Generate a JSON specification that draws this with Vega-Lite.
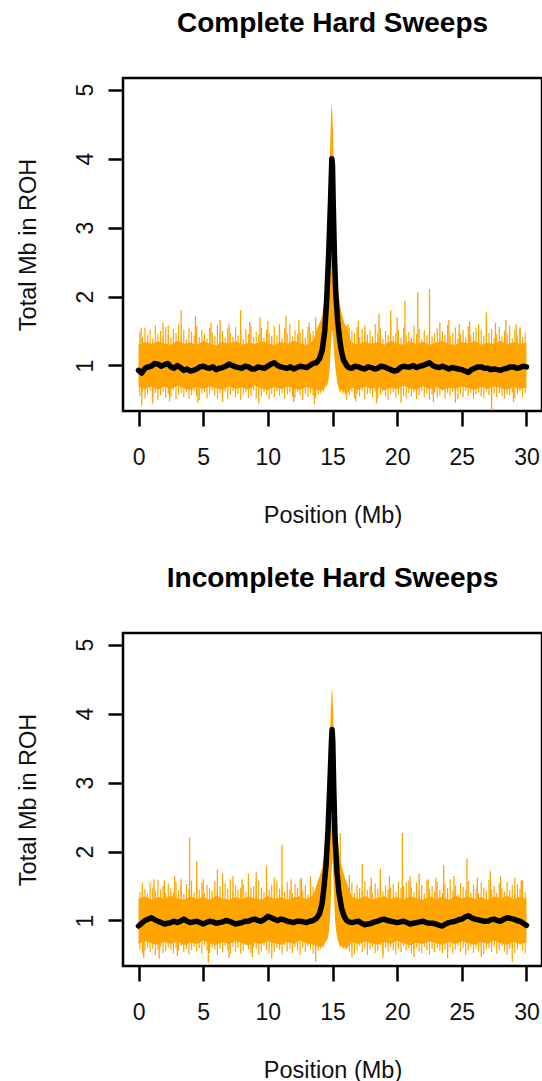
{
  "$schema": "https://vega.github.io/schema/vega-lite/v6.json",
  "padding": {"left": 14, "top": 8, "right": 0, "bottom": 0},
  "background": "white",
  "datasets": {
    "band": [
      {"p":1,"x":0,"lo":0.68,"hi":1.30},{"p":1,"x":0.5,"lo":0.66,"hi":1.34},{"p":1,"x":1,"lo":0.70,"hi":1.31},{"p":1,"x":1.5,"lo":0.65,"hi":1.35},
      {"p":1,"x":2,"lo":0.69,"hi":1.32},{"p":1,"x":2.5,"lo":0.66,"hi":1.30},{"p":1,"x":3,"lo":0.71,"hi":1.36},{"p":1,"x":3.5,"lo":0.67,"hi":1.31},
      {"p":1,"x":4,"lo":0.64,"hi":1.33},{"p":1,"x":4.5,"lo":0.69,"hi":1.30},{"p":1,"x":5,"lo":0.66,"hi":1.35},{"p":1,"x":5.5,"lo":0.70,"hi":1.32},
      {"p":1,"x":6,"lo":0.67,"hi":1.29},{"p":1,"x":6.5,"lo":0.65,"hi":1.34},{"p":1,"x":7,"lo":0.70,"hi":1.31},{"p":1,"x":7.5,"lo":0.66,"hi":1.36},
      {"p":1,"x":8,"lo":0.68,"hi":1.30},{"p":1,"x":8.5,"lo":0.65,"hi":1.33},{"p":1,"x":9,"lo":0.71,"hi":1.31},{"p":1,"x":9.5,"lo":0.67,"hi":1.35},
      {"p":1,"x":10,"lo":0.64,"hi":1.32},{"p":1,"x":10.5,"lo":0.69,"hi":1.30},{"p":1,"x":11,"lo":0.66,"hi":1.34},{"p":1,"x":11.5,"lo":0.70,"hi":1.31},
      {"p":1,"x":12,"lo":0.67,"hi":1.36},{"p":1,"x":12.5,"lo":0.65,"hi":1.32},{"p":1,"x":13,"lo":0.69,"hi":1.30},{"p":1,"x":13.5,"lo":0.66,"hi":1.36},
      {"p":1,"x":14,"lo":0.64,"hi":1.62},{"p":1,"x":14.1,"lo":0.58,"hi":1.66},{"p":1,"x":14.2,"lo":0.66,"hi":1.72},{"p":1,"x":14.3,"lo":0.60,"hi":1.86},
      {"p":1,"x":14.4,"lo":0.68,"hi":2.02},{"p":1,"x":14.5,"lo":0.70,"hi":2.30},{"p":1,"x":14.6,"lo":0.72,"hi":2.70},{"p":1,"x":14.7,"lo":0.80,"hi":3.30},
      {"p":1,"x":14.8,"lo":1.00,"hi":4.00},{"p":1,"x":14.85,"lo":1.20,"hi":4.40},{"p":1,"x":14.9,"lo":1.35,"hi":4.70},{"p":1,"x":14.95,"lo":1.50,"hi":4.80},
      {"p":1,"x":15,"lo":1.50,"hi":4.62},{"p":1,"x":15.05,"lo":1.40,"hi":4.30},{"p":1,"x":15.1,"lo":1.25,"hi":3.80},{"p":1,"x":15.2,"lo":1.00,"hi":3.00},
      {"p":1,"x":15.3,"lo":0.85,"hi":2.50},{"p":1,"x":15.4,"lo":0.72,"hi":2.20},{"p":1,"x":15.5,"lo":0.66,"hi":2.00},{"p":1,"x":15.6,"lo":0.60,"hi":1.86},
      {"p":1,"x":15.7,"lo":0.66,"hi":1.76},{"p":1,"x":15.8,"lo":0.58,"hi":1.70},{"p":1,"x":15.9,"lo":0.64,"hi":1.62},{"p":1,"x":16,"lo":0.57,"hi":1.58},
      {"p":1,"x":16.5,"lo":0.68,"hi":1.33},{"p":1,"x":17,"lo":0.65,"hi":1.30},{"p":1,"x":17.5,"lo":0.70,"hi":1.35},{"p":1,"x":18,"lo":0.66,"hi":1.31},
      {"p":1,"x":18.5,"lo":0.69,"hi":1.34},{"p":1,"x":19,"lo":0.64,"hi":1.30},{"p":1,"x":19.5,"lo":0.68,"hi":1.36},{"p":1,"x":20,"lo":0.66,"hi":1.32},
      {"p":1,"x":20.5,"lo":0.71,"hi":1.30},{"p":1,"x":21,"lo":0.67,"hi":1.35},{"p":1,"x":21.5,"lo":0.65,"hi":1.31},{"p":1,"x":22,"lo":0.70,"hi":1.34},
      {"p":1,"x":22.5,"lo":0.66,"hi":1.30},{"p":1,"x":23,"lo":0.69,"hi":1.33},{"p":1,"x":23.5,"lo":0.64,"hi":1.36},{"p":1,"x":24,"lo":0.68,"hi":1.31},
      {"p":1,"x":24.5,"lo":0.66,"hi":1.30},{"p":1,"x":25,"lo":0.70,"hi":1.34},{"p":1,"x":25.5,"lo":0.67,"hi":1.32},{"p":1,"x":26,"lo":0.65,"hi":1.35},
      {"p":1,"x":26.5,"lo":0.69,"hi":1.30},{"p":1,"x":27,"lo":0.66,"hi":1.33},{"p":1,"x":27.5,"lo":0.70,"hi":1.31},{"p":1,"x":28,"lo":0.67,"hi":1.36},
      {"p":1,"x":28.5,"lo":0.65,"hi":1.30},{"p":1,"x":29,"lo":0.69,"hi":1.34},{"p":1,"x":29.5,"lo":0.66,"hi":1.31},{"p":1,"x":30,"lo":0.68,"hi":1.33},

      {"p":2,"x":0,"lo":0.66,"hi":1.32},{"p":2,"x":0.5,"lo":0.70,"hi":1.35},{"p":2,"x":1,"lo":0.67,"hi":1.30},{"p":2,"x":1.5,"lo":0.65,"hi":1.34},
      {"p":2,"x":2,"lo":0.69,"hi":1.31},{"p":2,"x":2.5,"lo":0.66,"hi":1.36},{"p":2,"x":3,"lo":0.70,"hi":1.32},{"p":2,"x":3.5,"lo":0.64,"hi":1.30},
      {"p":2,"x":4,"lo":0.68,"hi":1.35},{"p":2,"x":4.5,"lo":0.66,"hi":1.31},{"p":2,"x":5,"lo":0.71,"hi":1.34},{"p":2,"x":5.5,"lo":0.67,"hi":1.30},
      {"p":2,"x":6,"lo":0.65,"hi":1.36},{"p":2,"x":6.5,"lo":0.69,"hi":1.32},{"p":2,"x":7,"lo":0.66,"hi":1.30},{"p":2,"x":7.5,"lo":0.70,"hi":1.34},
      {"p":2,"x":8,"lo":0.67,"hi":1.31},{"p":2,"x":8.5,"lo":0.64,"hi":1.35},{"p":2,"x":9,"lo":0.68,"hi":1.32},{"p":2,"x":9.5,"lo":0.66,"hi":1.30},
      {"p":2,"x":10,"lo":0.70,"hi":1.36},{"p":2,"x":10.5,"lo":0.67,"hi":1.31},{"p":2,"x":11,"lo":0.65,"hi":1.34},{"p":2,"x":11.5,"lo":0.69,"hi":1.30},
      {"p":2,"x":12,"lo":0.66,"hi":1.33},{"p":2,"x":12.5,"lo":0.71,"hi":1.35},{"p":2,"x":13,"lo":0.67,"hi":1.31},{"p":2,"x":13.5,"lo":0.65,"hi":1.37},
      {"p":2,"x":14,"lo":0.62,"hi":1.64},{"p":2,"x":14.1,"lo":0.58,"hi":1.70},{"p":2,"x":14.2,"lo":0.64,"hi":1.76},{"p":2,"x":14.3,"lo":0.60,"hi":1.90},
      {"p":2,"x":14.4,"lo":0.68,"hi":2.05},{"p":2,"x":14.5,"lo":0.70,"hi":2.30},{"p":2,"x":14.6,"lo":0.72,"hi":2.60},{"p":2,"x":14.7,"lo":0.80,"hi":3.00},
      {"p":2,"x":14.8,"lo":1.00,"hi":3.60},{"p":2,"x":14.85,"lo":1.20,"hi":3.95},{"p":2,"x":14.9,"lo":1.50,"hi":4.20},{"p":2,"x":14.95,"lo":1.80,"hi":4.37},
      {"p":2,"x":15,"lo":1.90,"hi":4.30},{"p":2,"x":15.05,"lo":1.70,"hi":4.00},{"p":2,"x":15.1,"lo":1.40,"hi":3.60},{"p":2,"x":15.2,"lo":1.00,"hi":3.00},
      {"p":2,"x":15.3,"lo":0.82,"hi":2.50},{"p":2,"x":15.4,"lo":0.72,"hi":2.20},{"p":2,"x":15.5,"lo":0.66,"hi":2.00},{"p":2,"x":15.6,"lo":0.60,"hi":1.90},
      {"p":2,"x":15.7,"lo":0.64,"hi":1.80},{"p":2,"x":15.8,"lo":0.58,"hi":1.72},{"p":2,"x":15.9,"lo":0.63,"hi":1.66},{"p":2,"x":16,"lo":0.57,"hi":1.60},
      {"p":2,"x":16.5,"lo":0.69,"hi":1.34},{"p":2,"x":17,"lo":0.66,"hi":1.31},{"p":2,"x":17.5,"lo":0.70,"hi":1.36},{"p":2,"x":18,"lo":0.67,"hi":1.30},
      {"p":2,"x":18.5,"lo":0.65,"hi":1.33},{"p":2,"x":19,"lo":0.69,"hi":1.35},{"p":2,"x":19.5,"lo":0.66,"hi":1.31},{"p":2,"x":20,"lo":0.71,"hi":1.34},
      {"p":2,"x":20.5,"lo":0.67,"hi":1.30},{"p":2,"x":21,"lo":0.64,"hi":1.36},{"p":2,"x":21.5,"lo":0.68,"hi":1.32},{"p":2,"x":22,"lo":0.66,"hi":1.30},
      {"p":2,"x":22.5,"lo":0.70,"hi":1.35},{"p":2,"x":23,"lo":0.67,"hi":1.31},{"p":2,"x":23.5,"lo":0.65,"hi":1.34},{"p":2,"x":24,"lo":0.69,"hi":1.30},
      {"p":2,"x":24.5,"lo":0.66,"hi":1.36},{"p":2,"x":25,"lo":0.70,"hi":1.32},{"p":2,"x":25.5,"lo":0.67,"hi":1.35},{"p":2,"x":26,"lo":0.65,"hi":1.31},
      {"p":2,"x":26.5,"lo":0.69,"hi":1.34},{"p":2,"x":27,"lo":0.66,"hi":1.30},{"p":2,"x":27.5,"lo":0.71,"hi":1.35},{"p":2,"x":28,"lo":0.67,"hi":1.32},
      {"p":2,"x":28.5,"lo":0.65,"hi":1.36},{"p":2,"x":29,"lo":0.69,"hi":1.31},{"p":2,"x":29.5,"lo":0.66,"hi":1.34},{"p":2,"x":30,"lo":0.68,"hi":1.32}
    ],
    "streaks": [
      {"p":1,"x":0.1,"lo":0.56,"hi":1.48},{"p":1,"x":0.3,"lo":0.61,"hi":1.41},{"p":1,"x":0.5,"lo":0.52,"hi":1.55},{"p":1,"x":0.7,"lo":0.58,"hi":1.44},{"p":1,"x":0.9,"lo":0.63,"hi":1.52},
      {"p":1,"x":1.1,"lo":0.54,"hi":1.39},{"p":1,"x":1.3,"lo":0.60,"hi":1.58},{"p":1,"x":1.5,"lo":0.50,"hi":1.46},{"p":1,"x":1.7,"lo":0.57,"hi":1.50},{"p":1,"x":1.9,"lo":0.62,"hi":1.42},
      {"p":1,"x":2.1,"lo":0.53,"hi":1.56},{"p":1,"x":2.3,"lo":0.59,"hi":1.45},{"p":1,"x":2.5,"lo":0.55,"hi":1.40},{"p":1,"x":2.7,"lo":0.64,"hi":1.53},{"p":1,"x":2.9,"lo":0.51,"hi":1.47},
      {"p":1,"x":3.1,"lo":0.58,"hi":1.60},{"p":1,"x":3.3,"lo":0.60,"hi":1.43},{"p":1,"x":3.5,"lo":0.54,"hi":1.51},{"p":1,"x":3.7,"lo":0.62,"hi":1.38},{"p":1,"x":3.9,"lo":0.52,"hi":1.54},
      {"p":1,"x":4.1,"lo":0.57,"hi":1.49},{"p":1,"x":4.3,"lo":0.63,"hi":1.44},{"p":1,"x":4.5,"lo":0.55,"hi":1.57},{"p":1,"x":4.7,"lo":0.50,"hi":1.41},{"p":1,"x":4.9,"lo":0.59,"hi":1.52},
      {"p":1,"x":5.1,"lo":0.61,"hi":1.46},{"p":1,"x":5.3,"lo":0.53,"hi":1.39},{"p":1,"x":5.5,"lo":0.58,"hi":1.55},{"p":1,"x":5.7,"lo":0.64,"hi":1.48},{"p":1,"x":5.9,"lo":0.56,"hi":1.43},
      {"p":1,"x":6.1,"lo":0.52,"hi":1.59},{"p":1,"x":6.3,"lo":0.60,"hi":1.45},{"p":1,"x":6.5,"lo":0.55,"hi":1.50},{"p":1,"x":6.7,"lo":0.62,"hi":1.40},{"p":1,"x":6.9,"lo":0.51,"hi":1.54},
      {"p":1,"x":7.1,"lo":0.57,"hi":1.47},{"p":1,"x":7.3,"lo":0.63,"hi":1.42},{"p":1,"x":7.5,"lo":0.54,"hi":1.56},{"p":1,"x":7.7,"lo":0.59,"hi":1.44},{"p":1,"x":7.9,"lo":0.50,"hi":1.51},
      {"p":1,"x":8.1,"lo":0.58,"hi":1.38},{"p":1,"x":8.3,"lo":0.61,"hi":1.53},{"p":1,"x":8.5,"lo":0.53,"hi":1.46},{"p":1,"x":8.7,"lo":0.56,"hi":1.58},{"p":1,"x":8.9,"lo":0.64,"hi":1.41},
      {"p":1,"x":9.1,"lo":0.52,"hi":1.49},{"p":1,"x":9.3,"lo":0.60,"hi":1.45},{"p":1,"x":9.5,"lo":0.55,"hi":1.55},{"p":1,"x":9.7,"lo":0.62,"hi":1.40},{"p":1,"x":9.9,"lo":0.57,"hi":1.52},
      {"p":1,"x":10.1,"lo":0.51,"hi":1.47},{"p":1,"x":10.3,"lo":0.59,"hi":1.43},{"p":1,"x":10.5,"lo":0.54,"hi":1.57},{"p":1,"x":10.7,"lo":0.63,"hi":1.44},{"p":1,"x":10.9,"lo":0.56,"hi":1.50},
      {"p":1,"x":11.1,"lo":0.60,"hi":1.39},{"p":1,"x":11.3,"lo":0.52,"hi":1.54},{"p":1,"x":11.5,"lo":0.58,"hi":1.46},{"p":1,"x":11.7,"lo":0.61,"hi":1.60},{"p":1,"x":11.9,"lo":0.55,"hi":1.42},
      {"p":1,"x":12.1,"lo":0.53,"hi":1.51},{"p":1,"x":12.3,"lo":0.62,"hi":1.45},{"p":1,"x":12.5,"lo":0.57,"hi":1.48},{"p":1,"x":12.7,"lo":0.50,"hi":1.53},{"p":1,"x":12.9,"lo":0.59,"hi":1.41},
      {"p":1,"x":13.1,"lo":0.54,"hi":1.56},{"p":1,"x":13.3,"lo":0.60,"hi":1.47},{"p":1,"x":13.5,"lo":0.56,"hi":1.50},{"p":1,"x":13.7,"lo":0.52,"hi":1.55},{"p":1,"x":13.9,"lo":0.58,"hi":1.58},
      {"p":1,"x":16.1,"lo":0.50,"hi":1.58},{"p":1,"x":16.3,"lo":0.57,"hi":1.55},{"p":1,"x":16.5,"lo":0.62,"hi":1.50},{"p":1,"x":16.7,"lo":0.53,"hi":1.47},{"p":1,"x":16.9,"lo":0.59,"hi":1.56},
      {"p":1,"x":17.1,"lo":0.55,"hi":1.41},{"p":1,"x":17.3,"lo":0.64,"hi":1.53},{"p":1,"x":17.5,"lo":0.51,"hi":1.48},{"p":1,"x":17.7,"lo":0.58,"hi":1.45},{"p":1,"x":17.9,"lo":0.60,"hi":1.51},
      {"p":1,"x":18.1,"lo":0.54,"hi":1.42},{"p":1,"x":18.3,"lo":0.62,"hi":1.60},{"p":1,"x":18.5,"lo":0.52,"hi":1.46},{"p":1,"x":18.7,"lo":0.57,"hi":1.54},{"p":1,"x":18.9,"lo":0.63,"hi":1.39},
      {"p":1,"x":19.1,"lo":0.55,"hi":1.50},{"p":1,"x":19.3,"lo":0.50,"hi":1.44},{"p":1,"x":19.5,"lo":0.59,"hi":1.57},{"p":1,"x":19.7,"lo":0.61,"hi":1.43},{"p":1,"x":19.9,"lo":0.53,"hi":1.47},
      {"p":1,"x":20.1,"lo":0.58,"hi":1.52},{"p":1,"x":20.3,"lo":0.64,"hi":1.40},{"p":1,"x":20.5,"lo":0.56,"hi":1.55},{"p":1,"x":20.7,"lo":0.52,"hi":1.45},{"p":1,"x":20.9,"lo":0.60,"hi":1.49},
      {"p":1,"x":21.1,"lo":0.55,"hi":1.41},{"p":1,"x":21.3,"lo":0.62,"hi":1.58},{"p":1,"x":21.5,"lo":0.51,"hi":1.46},{"p":1,"x":21.7,"lo":0.57,"hi":1.53},{"p":1,"x":21.9,"lo":0.63,"hi":1.38},
      {"p":1,"x":22.1,"lo":0.54,"hi":1.51},{"p":1,"x":22.3,"lo":0.59,"hi":1.44},{"p":1,"x":22.5,"lo":0.50,"hi":1.56},{"p":1,"x":22.7,"lo":0.58,"hi":1.42},{"p":1,"x":22.9,"lo":0.61,"hi":1.47},
      {"p":1,"x":23.1,"lo":0.53,"hi":1.54},{"p":1,"x":23.3,"lo":0.56,"hi":1.40},{"p":1,"x":23.5,"lo":0.64,"hi":1.50},{"p":1,"x":23.7,"lo":0.52,"hi":1.45},{"p":1,"x":23.9,"lo":0.60,"hi":1.59},
      {"p":1,"x":24.1,"lo":0.55,"hi":1.43},{"p":1,"x":24.3,"lo":0.62,"hi":1.48},{"p":1,"x":24.5,"lo":0.57,"hi":1.55},{"p":1,"x":24.7,"lo":0.51,"hi":1.39},{"p":1,"x":24.9,"lo":0.59,"hi":1.46},
      {"p":1,"x":25.1,"lo":0.54,"hi":1.52},{"p":1,"x":25.3,"lo":0.63,"hi":1.41},{"p":1,"x":25.5,"lo":0.56,"hi":1.57},{"p":1,"x":25.7,"lo":0.60,"hi":1.44},{"p":1,"x":25.9,"lo":0.52,"hi":1.49},
      {"p":1,"x":26.1,"lo":0.58,"hi":1.54},{"p":1,"x":26.3,"lo":0.61,"hi":1.38},{"p":1,"x":26.5,"lo":0.55,"hi":1.51},{"p":1,"x":26.7,"lo":0.53,"hi":1.43},{"p":1,"x":26.9,"lo":0.62,"hi":1.60},
      {"p":1,"x":27.1,"lo":0.57,"hi":1.47},{"p":1,"x":27.3,"lo":0.50,"hi":1.53},{"p":1,"x":27.5,"lo":0.59,"hi":1.40},{"p":1,"x":27.7,"lo":0.54,"hi":1.45},{"p":1,"x":27.9,"lo":0.60,"hi":1.56},
      {"p":1,"x":28.1,"lo":0.56,"hi":1.42},{"p":1,"x":28.3,"lo":0.52,"hi":1.50},{"p":1,"x":28.5,"lo":0.58,"hi":1.46},{"p":1,"x":28.7,"lo":0.56,"hi":1.58},{"p":1,"x":28.9,"lo":0.61,"hi":1.39},
      {"p":1,"x":29.1,"lo":0.52,"hi":1.52},{"p":1,"x":29.3,"lo":0.58,"hi":1.44},{"p":1,"x":29.5,"lo":0.63,"hi":1.55},{"p":1,"x":29.7,"lo":0.54,"hi":1.41},{"p":1,"x":29.9,"lo":0.60,"hi":1.48},

      {"p":2,"x":0.1,"lo":0.58,"hi":1.41},{"p":2,"x":0.3,"lo":0.52,"hi":1.52},{"p":2,"x":0.5,"lo":0.56,"hi":1.46},{"p":2,"x":0.7,"lo":0.60,"hi":1.39},{"p":2,"x":0.9,"lo":0.54,"hi":1.55},
      {"p":2,"x":1.1,"lo":0.59,"hi":1.48},{"p":2,"x":1.3,"lo":0.50,"hi":1.43},{"p":2,"x":1.5,"lo":0.57,"hi":1.59},{"p":2,"x":1.7,"lo":0.62,"hi":1.45},{"p":2,"x":1.9,"lo":0.53,"hi":1.50},
      {"p":2,"x":2.1,"lo":0.55,"hi":1.40},{"p":2,"x":2.3,"lo":0.61,"hi":1.54},{"p":2,"x":2.5,"lo":0.58,"hi":1.47},{"p":2,"x":2.7,"lo":0.52,"hi":1.42},{"p":2,"x":2.9,"lo":0.60,"hi":1.56},
      {"p":2,"x":3.1,"lo":0.56,"hi":1.44},{"p":2,"x":3.3,"lo":0.63,"hi":1.51},{"p":2,"x":3.5,"lo":0.54,"hi":1.38},{"p":2,"x":3.7,"lo":0.59,"hi":1.53},{"p":2,"x":3.9,"lo":0.51,"hi":1.46},
      {"p":2,"x":4.1,"lo":0.57,"hi":1.58},{"p":2,"x":4.3,"lo":0.62,"hi":1.41},{"p":2,"x":4.5,"lo":0.55,"hi":1.49},{"p":2,"x":4.7,"lo":0.60,"hi":1.45},{"p":2,"x":4.9,"lo":0.52,"hi":1.55},
      {"p":2,"x":5.1,"lo":0.64,"hi":1.40},{"p":2,"x":5.3,"lo":0.56,"hi":1.52},{"p":2,"x":5.5,"lo":0.53,"hi":1.47},{"p":2,"x":5.7,"lo":0.61,"hi":1.43},{"p":2,"x":5.9,"lo":0.58,"hi":1.57},
      {"p":2,"x":6.1,"lo":0.50,"hi":1.44},{"p":2,"x":6.3,"lo":0.59,"hi":1.50},{"p":2,"x":6.5,"lo":0.54,"hi":1.39},{"p":2,"x":6.7,"lo":0.63,"hi":1.54},{"p":2,"x":6.9,"lo":0.57,"hi":1.46},
      {"p":2,"x":7.1,"lo":0.51,"hi":1.60},{"p":2,"x":7.3,"lo":0.62,"hi":1.42},{"p":2,"x":7.5,"lo":0.55,"hi":1.51},{"p":2,"x":7.7,"lo":0.60,"hi":1.45},{"p":2,"x":7.9,"lo":0.52,"hi":1.48},
      {"p":2,"x":8.1,"lo":0.56,"hi":1.53},{"p":2,"x":8.3,"lo":0.64,"hi":1.41},{"p":2,"x":8.5,"lo":0.58,"hi":1.56},{"p":2,"x":8.7,"lo":0.53,"hi":1.47},{"p":2,"x":8.9,"lo":0.61,"hi":1.50},
      {"p":2,"x":9.1,"lo":0.59,"hi":1.55},{"p":2,"x":9.3,"lo":0.50,"hi":1.58},{"p":2,"x":9.5,"lo":0.55,"hi":1.48},{"p":2,"x":9.7,"lo":0.63,"hi":1.41},{"p":2,"x":9.9,"lo":0.57,"hi":1.55},
      {"p":2,"x":10.1,"lo":0.52,"hi":1.44},{"p":2,"x":10.3,"lo":0.62,"hi":1.52},{"p":2,"x":10.5,"lo":0.54,"hi":1.39},{"p":2,"x":10.7,"lo":0.60,"hi":1.58},{"p":2,"x":10.9,"lo":0.58,"hi":1.46},
      {"p":2,"x":11.1,"lo":0.51,"hi":1.50},{"p":2,"x":11.3,"lo":0.64,"hi":1.42},{"p":2,"x":11.5,"lo":0.55,"hi":1.56},{"p":2,"x":11.7,"lo":0.59,"hi":1.45},{"p":2,"x":11.9,"lo":0.53,"hi":1.40},
      {"p":2,"x":12.1,"lo":0.62,"hi":1.53},{"p":2,"x":12.3,"lo":0.57,"hi":1.47},{"p":2,"x":12.5,"lo":0.50,"hi":1.60},{"p":2,"x":12.7,"lo":0.60,"hi":1.43},{"p":2,"x":12.9,"lo":0.54,"hi":1.51},
      {"p":2,"x":13.1,"lo":0.63,"hi":1.38},{"p":2,"x":13.3,"lo":0.58,"hi":1.54},{"p":2,"x":13.5,"lo":0.52,"hi":1.49},{"p":2,"x":13.7,"lo":0.61,"hi":1.44},{"p":2,"x":13.9,"lo":0.56,"hi":1.57},
      {"p":2,"x":16.1,"lo":0.60,"hi":1.49},{"p":2,"x":16.3,"lo":0.55,"hi":1.45},{"p":2,"x":16.5,"lo":0.62,"hi":1.55},{"p":2,"x":16.7,"lo":0.51,"hi":1.40},{"p":2,"x":16.9,"lo":0.57,"hi":1.52},
      {"p":2,"x":17.1,"lo":0.63,"hi":1.47},{"p":2,"x":17.3,"lo":0.54,"hi":1.43},{"p":2,"x":17.5,"lo":0.59,"hi":1.57},{"p":2,"x":17.7,"lo":0.50,"hi":1.44},{"p":2,"x":17.9,"lo":0.58,"hi":1.50},
      {"p":2,"x":18.1,"lo":0.61,"hi":1.39},{"p":2,"x":18.3,"lo":0.53,"hi":1.54},{"p":2,"x":18.5,"lo":0.56,"hi":1.46},{"p":2,"x":18.7,"lo":0.64,"hi":1.60},{"p":2,"x":18.9,"lo":0.52,"hi":1.42},
      {"p":2,"x":19.1,"lo":0.60,"hi":1.51},{"p":2,"x":19.3,"lo":0.55,"hi":1.45},{"p":2,"x":19.5,"lo":0.62,"hi":1.48},{"p":2,"x":19.7,"lo":0.57,"hi":1.53},{"p":2,"x":19.9,"lo":0.51,"hi":1.41},
      {"p":2,"x":20.1,"lo":0.59,"hi":1.56},{"p":2,"x":20.3,"lo":0.54,"hi":1.47},{"p":2,"x":20.5,"lo":0.63,"hi":1.50},{"p":2,"x":20.7,"lo":0.56,"hi":1.55},{"p":2,"x":20.9,"lo":0.60,"hi":1.58},
      {"p":2,"x":21.1,"lo":0.52,"hi":1.48},{"p":2,"x":21.3,"lo":0.58,"hi":1.41},{"p":2,"x":21.5,"lo":0.61,"hi":1.55},{"p":2,"x":21.7,"lo":0.55,"hi":1.44},{"p":2,"x":21.9,"lo":0.53,"hi":1.52},
      {"p":2,"x":22.1,"lo":0.62,"hi":1.39},{"p":2,"x":22.3,"lo":0.57,"hi":1.58},{"p":2,"x":22.5,"lo":0.50,"hi":1.46},{"p":2,"x":22.7,"lo":0.59,"hi":1.50},{"p":2,"x":22.9,"lo":0.54,"hi":1.42},
      {"p":2,"x":23.1,"lo":0.60,"hi":1.56},{"p":2,"x":23.3,"lo":0.56,"hi":1.45},{"p":2,"x":23.5,"lo":0.52,"hi":1.40},{"p":2,"x":23.7,"lo":0.58,"hi":1.53},{"p":2,"x":23.9,"lo":0.56,"hi":1.47},
      {"p":2,"x":24.1,"lo":0.61,"hi":1.60},{"p":2,"x":24.3,"lo":0.52,"hi":1.43},{"p":2,"x":24.5,"lo":0.58,"hi":1.51},{"p":2,"x":24.7,"lo":0.63,"hi":1.38},{"p":2,"x":24.9,"lo":0.54,"hi":1.54},
      {"p":2,"x":25.1,"lo":0.60,"hi":1.49},{"p":2,"x":25.3,"lo":0.50,"hi":1.44},{"p":2,"x":25.5,"lo":0.57,"hi":1.57},{"p":2,"x":25.7,"lo":0.62,"hi":1.41},{"p":2,"x":25.9,"lo":0.53,"hi":1.52},
      {"p":2,"x":26.1,"lo":0.59,"hi":1.46},{"p":2,"x":26.3,"lo":0.55,"hi":1.39},{"p":2,"x":26.5,"lo":0.64,"hi":1.55},{"p":2,"x":26.7,"lo":0.51,"hi":1.48},{"p":2,"x":26.9,"lo":0.58,"hi":1.43},
      {"p":2,"x":27.1,"lo":0.60,"hi":1.59},{"p":2,"x":27.3,"lo":0.54,"hi":1.45},{"p":2,"x":27.5,"lo":0.62,"hi":1.50},{"p":2,"x":27.7,"lo":0.52,"hi":1.40},{"p":2,"x":27.9,"lo":0.57,"hi":1.54},
      {"p":2,"x":28.1,"lo":0.63,"hi":1.47},{"p":2,"x":28.3,"lo":0.55,"hi":1.42},{"p":2,"x":28.5,"lo":0.50,"hi":1.56},{"p":2,"x":28.7,"lo":0.59,"hi":1.44},{"p":2,"x":28.9,"lo":0.61,"hi":1.51},
      {"p":2,"x":29.1,"lo":0.53,"hi":1.38},{"p":2,"x":29.3,"lo":0.58,"hi":1.53},{"p":2,"x":29.5,"lo":0.64,"hi":1.46},{"p":2,"x":29.7,"lo":0.56,"hi":1.58},{"p":2,"x":29.9,"lo":0.52,"hi":1.41}
    ],
    "spikes": [
      {"p":1,"x":0.2,"lo":1.3,"hi":1.55},{"p":1,"x":1.9,"lo":1.3,"hi":1.62},{"p":1,"x":2.3,"lo":1.3,"hi":1.58},{"p":1,"x":3.3,"lo":1.3,"hi":1.80},
      {"p":1,"x":4.4,"lo":1.3,"hi":1.72},{"p":1,"x":5.6,"lo":1.3,"hi":1.62},{"p":1,"x":6.3,"lo":1.3,"hi":1.66},{"p":1,"x":7.0,"lo":1.3,"hi":1.60},
      {"p":1,"x":7.9,"lo":1.3,"hi":1.80},{"p":1,"x":8.6,"lo":1.3,"hi":1.63},{"p":1,"x":9.4,"lo":1.3,"hi":1.70},{"p":1,"x":10.0,"lo":1.3,"hi":1.65},
      {"p":1,"x":10.9,"lo":1.3,"hi":1.60},{"p":1,"x":11.4,"lo":1.3,"hi":1.72},{"p":1,"x":12.4,"lo":1.3,"hi":1.66},{"p":1,"x":13.2,"lo":1.3,"hi":1.62},
      {"p":1,"x":13.7,"lo":1.3,"hi":1.70},{"p":1,"x":16.2,"lo":1.3,"hi":1.60},{"p":1,"x":17.0,"lo":1.3,"hi":1.65},{"p":1,"x":17.5,"lo":1.3,"hi":1.58},
      {"p":1,"x":18.6,"lo":1.3,"hi":1.75},{"p":1,"x":19.5,"lo":1.3,"hi":1.80},{"p":1,"x":20.0,"lo":1.3,"hi":1.70},{"p":1,"x":20.6,"lo":1.3,"hi":1.94},
      {"p":1,"x":21.6,"lo":1.3,"hi":2.07},{"p":1,"x":22.5,"lo":1.3,"hi":2.11},{"p":1,"x":23.3,"lo":1.3,"hi":1.62},{"p":1,"x":24.0,"lo":1.3,"hi":1.66},
      {"p":1,"x":24.8,"lo":1.3,"hi":1.60},{"p":1,"x":25.6,"lo":1.3,"hi":1.64},{"p":1,"x":26.3,"lo":1.3,"hi":1.60},{"p":1,"x":26.9,"lo":1.3,"hi":1.77},
      {"p":1,"x":27.6,"lo":1.3,"hi":1.62},{"p":1,"x":28.4,"lo":1.3,"hi":1.66},{"p":1,"x":29.2,"lo":1.3,"hi":1.60},{"p":1,"x":29.5,"lo":1.3,"hi":1.55},
      {"p":1,"x":0.25,"lo":0.42,"hi":0.7},{"p":1,"x":1.1,"lo":0.45,"hi":0.7},{"p":1,"x":2.4,"lo":0.48,"hi":0.7},{"p":1,"x":4.6,"lo":0.46,"hi":0.7},
      {"p":1,"x":6.5,"lo":0.47,"hi":0.7},{"p":1,"x":9.3,"lo":0.45,"hi":0.7},{"p":1,"x":12.0,"lo":0.47,"hi":0.7},{"p":1,"x":13.6,"lo":0.44,"hi":0.7},
      {"p":1,"x":16.8,"lo":0.48,"hi":0.7},{"p":1,"x":18.4,"lo":0.45,"hi":0.7},{"p":1,"x":20.3,"lo":0.46,"hi":0.7},{"p":1,"x":22.8,"lo":0.47,"hi":0.7},
      {"p":1,"x":24.5,"lo":0.46,"hi":0.7},{"p":1,"x":27.3,"lo":0.35,"hi":0.7},{"p":1,"x":29.0,"lo":0.47,"hi":0.7},

      {"p":2,"x":0.3,"lo":1.3,"hi":1.55},{"p":2,"x":1.2,"lo":1.3,"hi":1.60},{"p":2,"x":2.0,"lo":1.3,"hi":1.58},{"p":2,"x":2.8,"lo":1.3,"hi":1.64},
      {"p":2,"x":3.3,"lo":1.3,"hi":1.60},{"p":2,"x":3.95,"lo":1.3,"hi":2.20},{"p":2,"x":4.5,"lo":1.3,"hi":1.86},{"p":2,"x":5.0,"lo":1.3,"hi":1.60},
      {"p":2,"x":6.1,"lo":1.3,"hi":1.74},{"p":2,"x":6.5,"lo":1.3,"hi":1.68},{"p":2,"x":7.3,"lo":1.3,"hi":1.64},{"p":2,"x":8.0,"lo":1.3,"hi":1.60},
      {"p":2,"x":8.5,"lo":1.3,"hi":1.68},{"p":2,"x":9.1,"lo":1.3,"hi":1.70},{"p":2,"x":9.9,"lo":1.3,"hi":1.79},{"p":2,"x":10.5,"lo":1.3,"hi":1.62},
      {"p":2,"x":11.1,"lo":1.3,"hi":2.10},{"p":2,"x":11.8,"lo":1.3,"hi":1.60},{"p":2,"x":12.6,"lo":1.3,"hi":1.62},{"p":2,"x":13.3,"lo":1.3,"hi":1.64},
      {"p":2,"x":15.6,"lo":1.3,"hi":2.27},{"p":2,"x":16.3,"lo":1.3,"hi":1.66},{"p":2,"x":17.3,"lo":1.3,"hi":1.82},{"p":2,"x":18.0,"lo":1.3,"hi":1.62},
      {"p":2,"x":18.7,"lo":1.3,"hi":1.75},{"p":2,"x":19.4,"lo":1.3,"hi":1.65},{"p":2,"x":20.4,"lo":1.3,"hi":2.27},{"p":2,"x":21.0,"lo":1.3,"hi":1.64},
      {"p":2,"x":21.7,"lo":1.3,"hi":1.68},{"p":2,"x":22.4,"lo":1.3,"hi":1.60},{"p":2,"x":23.0,"lo":1.3,"hi":1.62},{"p":2,"x":23.6,"lo":1.3,"hi":1.80},
      {"p":2,"x":24.4,"lo":1.3,"hi":1.64},{"p":2,"x":25.4,"lo":1.3,"hi":1.90},{"p":2,"x":26.2,"lo":1.3,"hi":1.62},{"p":2,"x":27.2,"lo":1.3,"hi":1.72},
      {"p":2,"x":28.0,"lo":1.3,"hi":1.64},{"p":2,"x":29.1,"lo":1.3,"hi":1.62},{"p":2,"x":29.6,"lo":1.3,"hi":1.58},
      {"p":2,"x":0.4,"lo":0.46,"hi":0.7},{"p":2,"x":1.6,"lo":0.45,"hi":0.7},{"p":2,"x":3.0,"lo":0.48,"hi":0.7},{"p":2,"x":5.4,"lo":0.39,"hi":0.7},
      {"p":2,"x":7.0,"lo":0.46,"hi":0.7},{"p":2,"x":8.8,"lo":0.47,"hi":0.7},{"p":2,"x":10.3,"lo":0.45,"hi":0.7},{"p":2,"x":13.7,"lo":0.40,"hi":0.7},
      {"p":2,"x":16.5,"lo":0.47,"hi":0.7},{"p":2,"x":18.9,"lo":0.46,"hi":0.7},{"p":2,"x":21.3,"lo":0.47,"hi":0.7},{"p":2,"x":23.9,"lo":0.45,"hi":0.7},
      {"p":2,"x":26.5,"lo":0.47,"hi":0.7},{"p":2,"x":28.9,"lo":0.40,"hi":0.7}
    ],
    "mean": [
      {"p":1,"x":0,"y":0.93},{"p":1,"x":0.25,"y":0.89},{"p":1,"x":0.5,"y":0.96},{"p":1,"x":0.75,"y":0.98},{"p":1,"x":1,"y":0.99},{"p":1,"x":1.25,"y":1.03},
      {"p":1,"x":1.5,"y":1.02},{"p":1,"x":1.75,"y":0.99},{"p":1,"x":2,"y":1.01},{"p":1,"x":2.25,"y":1.03},{"p":1,"x":2.5,"y":0.98},{"p":1,"x":2.75,"y":0.96},
      {"p":1,"x":3,"y":1.0},{"p":1,"x":3.25,"y":0.97},{"p":1,"x":3.5,"y":0.93},{"p":1,"x":3.75,"y":0.95},{"p":1,"x":4,"y":0.92},{"p":1,"x":4.25,"y":0.93},
      {"p":1,"x":4.5,"y":0.95},{"p":1,"x":4.75,"y":0.98},{"p":1,"x":5,"y":0.99},{"p":1,"x":5.25,"y":0.97},{"p":1,"x":5.5,"y":0.96},{"p":1,"x":5.75,"y":0.98},
      {"p":1,"x":6,"y":0.94},{"p":1,"x":6.25,"y":0.96},{"p":1,"x":6.5,"y":0.97},{"p":1,"x":6.75,"y":0.99},{"p":1,"x":7,"y":1.02},{"p":1,"x":7.25,"y":1.0},
      {"p":1,"x":7.5,"y":0.98},{"p":1,"x":7.75,"y":0.97},{"p":1,"x":8,"y":0.96},{"p":1,"x":8.25,"y":0.99},{"p":1,"x":8.5,"y":0.98},{"p":1,"x":8.75,"y":0.95},
      {"p":1,"x":9,"y":0.95},{"p":1,"x":9.25,"y":0.98},{"p":1,"x":9.5,"y":0.97},{"p":1,"x":9.75,"y":0.96},{"p":1,"x":10,"y":0.99},{"p":1,"x":10.25,"y":1.02},
      {"p":1,"x":10.5,"y":1.04},{"p":1,"x":10.75,"y":1.0},{"p":1,"x":11,"y":0.98},{"p":1,"x":11.25,"y":0.97},{"p":1,"x":11.5,"y":0.96},{"p":1,"x":11.75,"y":0.98},
      {"p":1,"x":12,"y":0.95},{"p":1,"x":12.25,"y":0.97},{"p":1,"x":12.5,"y":0.99},{"p":1,"x":12.75,"y":0.98},{"p":1,"x":13,"y":0.97},{"p":1,"x":13.25,"y":1.0},
      {"p":1,"x":13.5,"y":1.03},{"p":1,"x":13.75,"y":1.04},
      {"p":1,"x":14,"y":1.10},{"p":1,"x":14.2,"y":1.22},{"p":1,"x":14.4,"y":1.50},{"p":1,"x":14.55,"y":1.95},{"p":1,"x":14.7,"y":2.6},{"p":1,"x":14.85,"y":3.4},
      {"p":1,"x":14.95,"y":4.0},{"p":1,"x":15.0,"y":3.9},{"p":1,"x":15.05,"y":3.4},{"p":1,"x":15.15,"y":2.6},{"p":1,"x":15.25,"y":2.05},{"p":1,"x":15.4,"y":1.65},
      {"p":1,"x":15.55,"y":1.38},{"p":1,"x":15.7,"y":1.2},{"p":1,"x":15.85,"y":1.08},
      {"p":1,"x":16.1,"y":1.0},{"p":1,"x":16.25,"y":0.97},{"p":1,"x":16.5,"y":0.96},{"p":1,"x":16.75,"y":0.99},{"p":1,"x":17,"y":0.98},{"p":1,"x":17.25,"y":0.96},
      {"p":1,"x":17.5,"y":0.95},{"p":1,"x":17.75,"y":0.98},{"p":1,"x":18,"y":0.97},{"p":1,"x":18.25,"y":0.95},{"p":1,"x":18.5,"y":0.96},{"p":1,"x":18.75,"y":0.99},
      {"p":1,"x":19,"y":0.98},{"p":1,"x":19.25,"y":0.96},{"p":1,"x":19.5,"y":0.94},{"p":1,"x":19.75,"y":0.92},{"p":1,"x":20,"y":0.93},{"p":1,"x":20.25,"y":0.97},
      {"p":1,"x":20.5,"y":0.99},{"p":1,"x":20.75,"y":0.98},{"p":1,"x":21,"y":0.98},{"p":1,"x":21.25,"y":1.0},{"p":1,"x":21.5,"y":0.97},{"p":1,"x":21.75,"y":0.99},
      {"p":1,"x":22,"y":1.0},{"p":1,"x":22.25,"y":1.02},{"p":1,"x":22.5,"y":1.04},{"p":1,"x":22.75,"y":1.0},{"p":1,"x":23,"y":0.98},{"p":1,"x":23.25,"y":0.97},
      {"p":1,"x":23.5,"y":0.99},{"p":1,"x":23.75,"y":0.97},{"p":1,"x":24,"y":0.95},{"p":1,"x":24.25,"y":0.97},{"p":1,"x":24.5,"y":0.96},{"p":1,"x":24.75,"y":0.95},
      {"p":1,"x":25,"y":0.94},{"p":1,"x":25.25,"y":0.92},{"p":1,"x":25.5,"y":0.90},{"p":1,"x":25.75,"y":0.94},{"p":1,"x":26,"y":0.96},{"p":1,"x":26.25,"y":0.98},
      {"p":1,"x":26.5,"y":0.98},{"p":1,"x":26.75,"y":0.96},{"p":1,"x":27,"y":0.96},{"p":1,"x":27.25,"y":0.94},{"p":1,"x":27.5,"y":0.95},{"p":1,"x":27.75,"y":0.94},
      {"p":1,"x":28,"y":0.93},{"p":1,"x":28.25,"y":0.95},{"p":1,"x":28.5,"y":0.96},{"p":1,"x":28.75,"y":0.98},{"p":1,"x":29,"y":0.98},{"p":1,"x":29.25,"y":0.96},
      {"p":1,"x":29.5,"y":0.97},{"p":1,"x":29.75,"y":0.99},{"p":1,"x":30,"y":0.98},

      {"p":2,"x":0,"y":0.92},{"p":2,"x":0.25,"y":0.96},{"p":2,"x":0.5,"y":1.0},{"p":2,"x":0.75,"y":1.02},{"p":2,"x":1,"y":1.04},{"p":2,"x":1.25,"y":1.01},
      {"p":2,"x":1.5,"y":0.99},{"p":2,"x":1.75,"y":0.97},{"p":2,"x":2,"y":0.95},{"p":2,"x":2.25,"y":0.96},{"p":2,"x":2.5,"y":0.97},{"p":2,"x":2.75,"y":0.99},
      {"p":2,"x":3,"y":0.97},{"p":2,"x":3.25,"y":0.99},{"p":2,"x":3.5,"y":1.02},{"p":2,"x":3.75,"y":0.99},{"p":2,"x":4,"y":0.97},{"p":2,"x":4.25,"y":0.98},
      {"p":2,"x":4.5,"y":0.99},{"p":2,"x":4.75,"y":0.97},{"p":2,"x":5,"y":0.95},{"p":2,"x":5.25,"y":0.97},{"p":2,"x":5.5,"y":0.99},{"p":2,"x":5.75,"y":0.98},
      {"p":2,"x":6,"y":0.96},{"p":2,"x":6.25,"y":0.97},{"p":2,"x":6.5,"y":0.98},{"p":2,"x":6.75,"y":1.0},{"p":2,"x":7,"y":0.99},{"p":2,"x":7.25,"y":0.97},
      {"p":2,"x":7.5,"y":0.95},{"p":2,"x":7.75,"y":0.96},{"p":2,"x":8,"y":0.97},{"p":2,"x":8.25,"y":0.99},{"p":2,"x":8.5,"y":0.99},{"p":2,"x":8.75,"y":1.01},
      {"p":2,"x":9,"y":1.02},{"p":2,"x":9.25,"y":1.0},{"p":2,"x":9.5,"y":0.99},{"p":2,"x":9.75,"y":1.02},{"p":2,"x":10,"y":1.06},{"p":2,"x":10.25,"y":1.04},
      {"p":2,"x":10.5,"y":1.02},{"p":2,"x":10.75,"y":1.0},{"p":2,"x":11,"y":1.02},{"p":2,"x":11.25,"y":1.01},{"p":2,"x":11.5,"y":0.99},{"p":2,"x":11.75,"y":0.98},
      {"p":2,"x":12,"y":0.97},{"p":2,"x":12.25,"y":0.99},{"p":2,"x":12.5,"y":0.99},{"p":2,"x":12.75,"y":0.98},{"p":2,"x":13,"y":0.97},{"p":2,"x":13.25,"y":0.99},
      {"p":2,"x":13.5,"y":1.0},{"p":2,"x":13.75,"y":1.03},
      {"p":2,"x":14,"y":1.10},{"p":2,"x":14.2,"y":1.25},{"p":2,"x":14.35,"y":1.5},{"p":2,"x":14.5,"y":1.8},{"p":2,"x":14.65,"y":2.3},{"p":2,"x":14.8,"y":3.0},
      {"p":2,"x":14.92,"y":3.6},{"p":2,"x":14.97,"y":3.77},{"p":2,"x":15.02,"y":3.6},{"p":2,"x":15.1,"y":2.9},{"p":2,"x":15.2,"y":2.2},{"p":2,"x":15.35,"y":1.7},
      {"p":2,"x":15.5,"y":1.4},{"p":2,"x":15.7,"y":1.18},{"p":2,"x":15.9,"y":1.06},
      {"p":2,"x":16.1,"y":1.0},{"p":2,"x":16.25,"y":0.98},{"p":2,"x":16.5,"y":0.97},{"p":2,"x":16.75,"y":0.98},{"p":2,"x":17,"y":0.99},{"p":2,"x":17.25,"y":0.96},
      {"p":2,"x":17.5,"y":0.94},{"p":2,"x":17.75,"y":0.95},{"p":2,"x":18,"y":0.96},{"p":2,"x":18.25,"y":0.98},{"p":2,"x":18.5,"y":0.99},{"p":2,"x":18.75,"y":1.01},
      {"p":2,"x":19,"y":1.02},{"p":2,"x":19.25,"y":1.0},{"p":2,"x":19.5,"y":0.99},{"p":2,"x":19.75,"y":0.98},{"p":2,"x":20,"y":0.97},{"p":2,"x":20.25,"y":0.98},
      {"p":2,"x":20.5,"y":0.99},{"p":2,"x":20.75,"y":0.97},{"p":2,"x":21,"y":0.95},{"p":2,"x":21.25,"y":0.96},{"p":2,"x":21.5,"y":0.97},{"p":2,"x":21.75,"y":0.98},
      {"p":2,"x":22,"y":0.99},{"p":2,"x":22.25,"y":0.97},{"p":2,"x":22.5,"y":0.96},{"p":2,"x":22.75,"y":0.96},{"p":2,"x":23,"y":0.95},{"p":2,"x":23.25,"y":0.93},
      {"p":2,"x":23.5,"y":0.92},{"p":2,"x":23.75,"y":0.95},{"p":2,"x":24,"y":0.97},{"p":2,"x":24.25,"y":0.98},{"p":2,"x":24.5,"y":0.99},{"p":2,"x":24.75,"y":1.01},
      {"p":2,"x":25,"y":1.02},{"p":2,"x":25.25,"y":1.05},{"p":2,"x":25.5,"y":1.07},{"p":2,"x":25.75,"y":1.04},{"p":2,"x":26,"y":1.02},{"p":2,"x":26.25,"y":1.01},
      {"p":2,"x":26.5,"y":1.0},{"p":2,"x":26.75,"y":0.99},{"p":2,"x":27,"y":0.99},{"p":2,"x":27.25,"y":1.01},{"p":2,"x":27.5,"y":1.02},{"p":2,"x":27.75,"y":1.0},
      {"p":2,"x":28,"y":0.99},{"p":2,"x":28.25,"y":1.02},{"p":2,"x":28.5,"y":1.04},{"p":2,"x":28.75,"y":1.03},{"p":2,"x":29,"y":1.02},{"p":2,"x":29.25,"y":1.0},
      {"p":2,"x":29.5,"y":0.99},{"p":2,"x":29.75,"y":0.96},{"p":2,"x":30,"y":0.93}
    ]
  },
  "vconcat": [
    {
      "title": "Complete Hard Sweeps",
      "width": 419,
      "height": 333,
      "layer": [
        {
          "data": {"name": "band"},
          "transform": [{"filter": "datum.p == 1"}],
          "mark": {"type": "area", "color": "#FFA500", "clip": true},
          "encoding": {
            "x": {"field": "x", "type": "quantitative", "title": "Position (Mb)", "scale": {"domain": [-1.2, 31.2], "nice": false, "zero": false}, "axis": {"values": [0, 5, 10, 15, 20, 25, 30]}},
            "y": {"field": "lo", "type": "quantitative", "title": "Total Mb in ROH", "scale": {"domain": [0.34, 5.17], "nice": false, "zero": false}, "axis": {"values": [1, 2, 3, 4, 5], "format": "d"}},
            "y2": {"field": "hi"}
          }
        },
        {
          "data": {"name": "streaks"},
          "transform": [{"filter": "datum.p == 1"}],
          "mark": {"type": "rule", "color": "#FFA500", "strokeWidth": 1.2, "clip": true},
          "encoding": {
            "x": {"field": "x", "type": "quantitative", "title": "Position (Mb)"},
            "y": {"field": "lo", "type": "quantitative", "title": "Total Mb in ROH"},
            "y2": {"field": "hi"}
          }
        },
        {
          "data": {"name": "spikes"},
          "transform": [{"filter": "datum.p == 1"}],
          "mark": {"type": "rule", "color": "#FFA500", "strokeWidth": 1.3, "clip": true},
          "encoding": {
            "x": {"field": "x", "type": "quantitative", "title": "Position (Mb)"},
            "y": {"field": "lo", "type": "quantitative", "title": "Total Mb in ROH"},
            "y2": {"field": "hi"}
          }
        },
        {
          "data": {"name": "mean"},
          "transform": [{"filter": "datum.p == 1"}],
          "mark": {"type": "line", "color": "#000000", "strokeWidth": 5.5, "strokeJoin": "round", "strokeCap": "round", "clip": true},
          "encoding": {
            "x": {"field": "x", "type": "quantitative", "title": "Position (Mb)"},
            "y": {"field": "y", "type": "quantitative", "title": "Total Mb in ROH"}
          }
        }
      ]
    },
    {
      "title": "Incomplete Hard Sweeps",
      "width": 419,
      "height": 333,
      "layer": [
        {
          "data": {"name": "band"},
          "transform": [{"filter": "datum.p == 2"}],
          "mark": {"type": "area", "color": "#FFA500", "clip": true},
          "encoding": {
            "x": {"field": "x", "type": "quantitative", "title": "Position (Mb)", "scale": {"domain": [-1.2, 31.2], "nice": false, "zero": false}, "axis": {"values": [0, 5, 10, 15, 20, 25, 30]}},
            "y": {"field": "lo", "type": "quantitative", "title": "Total Mb in ROH", "scale": {"domain": [0.34, 5.17], "nice": false, "zero": false}, "axis": {"values": [1, 2, 3, 4, 5], "format": "d"}},
            "y2": {"field": "hi"}
          }
        },
        {
          "data": {"name": "streaks"},
          "transform": [{"filter": "datum.p == 2"}],
          "mark": {"type": "rule", "color": "#FFA500", "strokeWidth": 1.2, "clip": true},
          "encoding": {
            "x": {"field": "x", "type": "quantitative", "title": "Position (Mb)"},
            "y": {"field": "lo", "type": "quantitative", "title": "Total Mb in ROH"},
            "y2": {"field": "hi"}
          }
        },
        {
          "data": {"name": "spikes"},
          "transform": [{"filter": "datum.p == 2"}],
          "mark": {"type": "rule", "color": "#FFA500", "strokeWidth": 1.3, "clip": true},
          "encoding": {
            "x": {"field": "x", "type": "quantitative", "title": "Position (Mb)"},
            "y": {"field": "lo", "type": "quantitative", "title": "Total Mb in ROH"},
            "y2": {"field": "hi"}
          }
        },
        {
          "data": {"name": "mean"},
          "transform": [{"filter": "datum.p == 2"}],
          "mark": {"type": "line", "color": "#000000", "strokeWidth": 5.5, "strokeJoin": "round", "strokeCap": "round", "clip": true},
          "encoding": {
            "x": {"field": "x", "type": "quantitative", "title": "Position (Mb)"},
            "y": {"field": "y", "type": "quantitative", "title": "Total Mb in ROH"}
          }
        }
      ]
    }
  ],
  "config": {
    "view": {"stroke": "#000000", "strokeWidth": 2.5},
    "concat": {"spacing": 35},
    "axis": {
      "domain": false, "grid": false, "tickColor": "#000000", "tickWidth": 2.5, "tickSize": 15,
      "labelFont": "Liberation Sans", "labelFontSize": 23, "labelColor": "#111111", "labelFlush": false,
      "titleFont": "Liberation Sans", "titleFontSize": 23.5, "titleFontWeight": "normal", "titleColor": "#111111"
    },
    "axisX": {"labelBaseline": "alphabetic", "labelPadding": 38, "titleBaseline": "alphabetic", "titlePadding": 53},
    "axisY": {"labelAngle": -90, "labelAlign": "center", "labelBaseline": "alphabetic", "labelPadding": 16, "titleBaseline": "alphabetic", "titlePadding": 39},
    "title": {"font": "Liberation Sans", "fontSize": 28, "fontWeight": "bold", "anchor": "middle", "frame": "group", "baseline": "alphabetic", "offset": 40, "color": "#000000"}
  }
}
